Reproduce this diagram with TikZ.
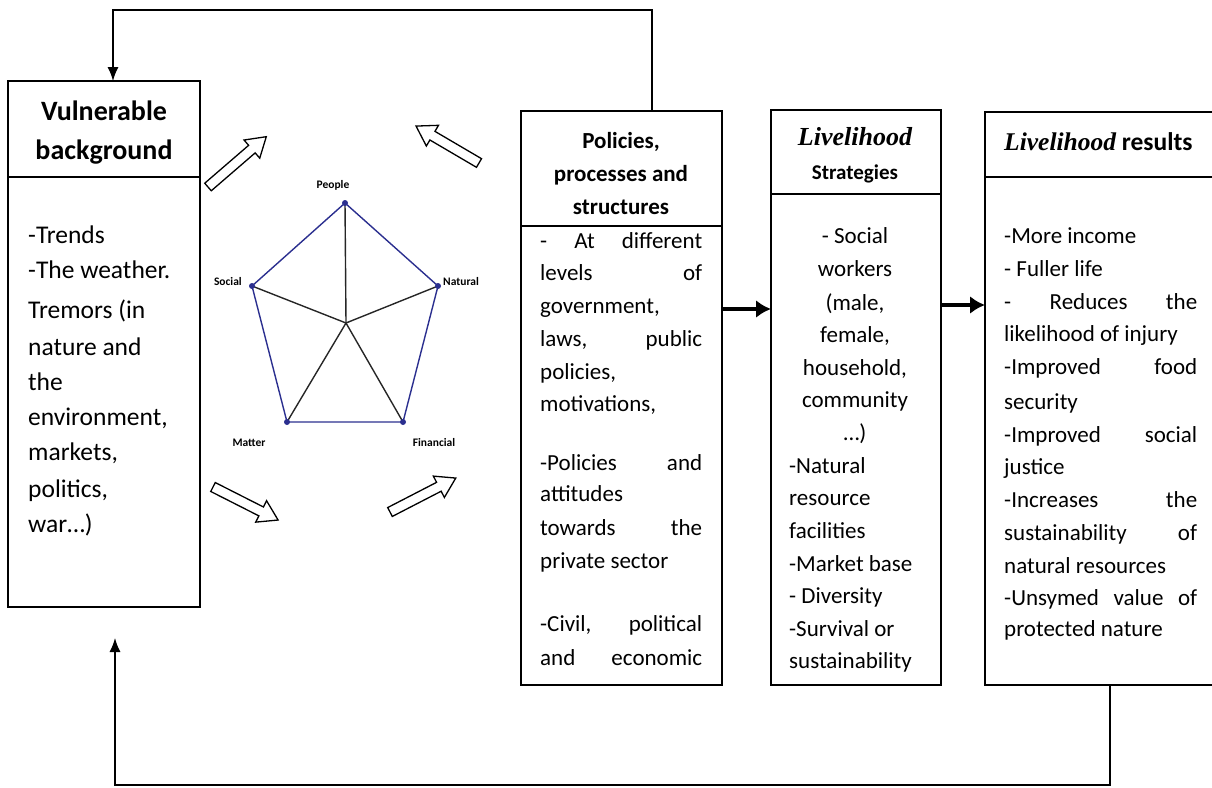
\documentclass[tikz,border=0pt]{standalone}
\usepackage{fontspec}
\setmainfont{Carlito}
\newfontfamily\serifbi{Liberation Serif}
\usetikzlibrary{arrows.meta,calc}
\newcommand\fsz[1]{\fontsize{#1}{#1}\selectfont}
\newcommand\jl[2]{\makebox[#1pt][s]{#2}}
\newcommand\hollowarr[4]{\draw[hollow, shift={(#1,#2)}, rotate=#3] (0,-5) -- ({#4-19},-5) -- ({#4-19},-12) -- (#4,0) -- ({#4-19},12) -- ({#4-19},5) -- (0,5) -- cycle;}
\definecolor{navy}{HTML}{2B2F8F}
\begin{document}
\begin{tikzpicture}[x=1pt,y=-1pt,
  box/.style={draw, line width=1.6pt, anchor=north west, inner sep=0, outer sep=0},
  divider/.style={line width=1.6pt},
  fb/.style={line width=1.3pt, -{Latex[length=14pt,width=11pt]}},
  bigarr/.style={line width=4.5pt, -{Latex[length=15pt,width=18pt]}},
  hollow/.style={draw, line width=1.3pt, fill=white, line join=miter},
  hd/.style={anchor=mid, inner sep=0, font=\fsz{23}\bfseries},
  txt/.style={anchor=mid west, inner sep=0, font=\fsz{23}},
  vtxt/.style={anchor=mid west, inner sep=0, font=\fsz{25.5}},
  ctxt/.style={anchor=mid, inner sep=0, font=\fsz{23}},
  lbl/.style={inner sep=0, font=\fsz{11.5}\bfseries},
  spoke/.style={line width=1.4pt, black!85},
  pent/.style={line width=1.4pt, navy, line join=round}]
\useasboundingbox (0,0) rectangle (1212,787);

% boxes
\node[box, minimum width=192pt, minimum height=526pt] (vb) at (8,81) {};
\node[box, minimum width=201pt, minimum height=574pt] (pol) at (521,111) {};
\node[box, minimum width=170pt, minimum height=575pt] (ls) at (771,110) {};
\node[box, minimum width=240pt, minimum height=573pt] (lr) at (985,112) {};
\draw[divider] ([yshift=-96pt]vb.north west) -- ([yshift=-96pt]vb.north east);
\draw[divider] ([yshift=-115pt]pol.north west) -- ([yshift=-115pt]pol.north east);
\draw[divider] ([yshift=-84pt]ls.north west) -- ([yshift=-84pt]ls.north east);
\draw[divider] ([yshift=-65pt]lr.north west) -- ([yshift=-65pt]lr.north east);

% feedback connectors
\coordinate (tr) at (652,10);
\coordinate (tl) at (113,10);
\draw[fb] (pol.north -| tr) -- (tr) -- (tl) -- (vb.north -| tl);
\coordinate (br) at (1110,785);
\coordinate (bl) at (115,785);
\coordinate (bt) at (115,638);
\draw[fb] (lr.south -| br) -- (br) -- (bl) -- (bt);

% thick arrows
\coordinate (a1) at (0,309);
\coordinate (a2) at (0,305);
\draw[bigarr] (pol.east |- a1) -- (ls.west |- a1);
\draw[bigarr] (ls.east |- a2) -- (lr.west |- a2);

% hollow arrows
\hollowarr{208}{187}{40.8}{77}
\hollowarr{479}{163}{149.6}{73}
\hollowarr{213}{487}{-26.9}{73}
\hollowarr{390}{512}{27.3}{74}

% pentagon
\coordinate (cen) at (346,323);
\coordinate (vp) at (345,203);
\coordinate (vn) at (438,286);
\coordinate (vf) at (403,422);
\coordinate (vm) at (287,422);
\coordinate (vs) at (252,286);
\foreach \v in {vp,vn,vf,vm,vs} \draw[spoke] (cen) -- (\v);
\draw[pent] (vp) -- (vn) -- (vf) -- (vm) -- (vs) -- cycle;
\foreach \v in {vp,vn,vf,vm,vs} \fill[navy] (\v) circle (3);
\node[lbl, anchor=mid] (lp) at (333,186) {People};
\node[lbl, anchor=mid west] (ln) at (443,283) {Natural};
\node[lbl, anchor=mid east] (lsoc) at (242,283) {Social};
\node[lbl, anchor=mid] (lm) at (249,444) {Matter};
\node[lbl, anchor=mid] (lf) at (434,444) {Financial};

\begin{scope}[yshift=-6pt]
% Vulnerable background
\node[hd, font=\fsz{28}\bfseries] (vh1) at (104,112) {Vulnerable};
\node[hd, font=\fsz{28}\bfseries] (vh2) at (104,151) {background};
\node[vtxt] (v1) at (28,235) {-Trends};
\node[vtxt] (v2) at (28,270) {-The weather.};
\node[vtxt] (v3) at (28,310) {Tremors (in};
\node[vtxt] (v4) at (28,347) {nature and};
\node[vtxt] (v5) at (28,382) {the};
\node[vtxt] (v6) at (28,417) {environment,};
\node[vtxt] (v7) at (28,452) {markets,};
\node[vtxt] (v8) at (28,489) {politics,};
\node[vtxt] (v9) at (28,524) {war\dots)};

% Policies
\node[hd] (ph1) at (621,140) {Policies,};
\node[hd] (ph2) at (621,173) {processes and};
\node[hd] (ph3) at (621,206) {structures};
\node[txt] (p1) at (540,240) {\jl{162}{- At different}};
\node[txt] (p2) at (540,272) {\jl{162}{levels of}};
\node[txt] (p3) at (540,305) {government,};
\node[txt] (p4) at (540,338) {\jl{162}{laws, public}};
\node[txt] (p5) at (540,371) {policies,};
\node[txt] (p6) at (540,403) {motivations,};
\node[txt] (p7) at (540,462) {\jl{162}{-Policies and}};
\node[txt] (p8) at (540,493) {attitudes};
\node[txt] (p9) at (540,527) {\jl{162}{towards the}};
\node[txt] (p10) at (540,560) {private sector};
\node[txt] (p11) at (540,623) {\jl{162}{-Civil, political}};
\node[txt] (p12) at (540,657) {\jl{162}{and economic}};

% Livelihood strategies
\node[hd, font=\fsz{26}\serifbi\bfseries\itshape] (sh1) at (855,137) {Livelihood};
\node[hd, font=\fsz{21}\bfseries] (sh2) at (855,171) {Strategies};
\node[ctxt] (s1) at (855,235) {- Social};
\node[ctxt] (s2) at (855,268) {workers};
\node[ctxt] (s3) at (855,302) {(male,};
\node[ctxt] (s4) at (855,334) {female,};
\node[ctxt] (s5) at (855,367) {household,};
\node[ctxt] (s6) at (855,399) {community};
\node[ctxt] (s7) at (855,432) {\dots)};
\node[txt] (s8) at (789,465) {-Natural};
\node[txt] (s9) at (789,497) {resource};
\node[txt] (s10) at (789,530) {facilities};
\node[txt] (s11) at (789,563) {-Market base};
\node[txt] (s12) at (789,595) {- Diversity};
\node[txt] (s13) at (789,628) {-Survival or};
\node[txt] (s14) at (789,660) {sustainability};

% Livelihood results
\node[txt, font=\fsz{25.5}\bfseries] (rh) at (1004,142) {{\serifbi\itshape Livelihood} results};
\node[txt] (r1) at (1004,235) {-More income};
\node[txt] (r2) at (1004,268) {- Fuller life};
\node[txt] (r3) at (1004,301) {\jl{193}{- Reduces the}};
\node[txt] (r4) at (1004,333) {likelihood of injury};
\node[txt] (r5) at (1004,366) {\jl{193}{-Improved food}};
\node[txt] (r6) at (1004,401) {security};
\node[txt] (r7) at (1004,434) {\jl{193}{-Improved social}};
\node[txt] (r8) at (1004,466) {justice};
\node[txt] (r9) at (1004,499) {\jl{193}{-Increases the}};
\node[txt] (r10) at (1004,532) {\jl{193}{sustainability of}};
\node[txt] (r11) at (1004,565) {natural resources};
\node[txt] (r12) at (1004,597) {\jl{193}{-Unsymed value of}};
\node[txt] (r13) at (1004,628) {protected nature};
\end{scope}
\end{tikzpicture}
\end{document}
